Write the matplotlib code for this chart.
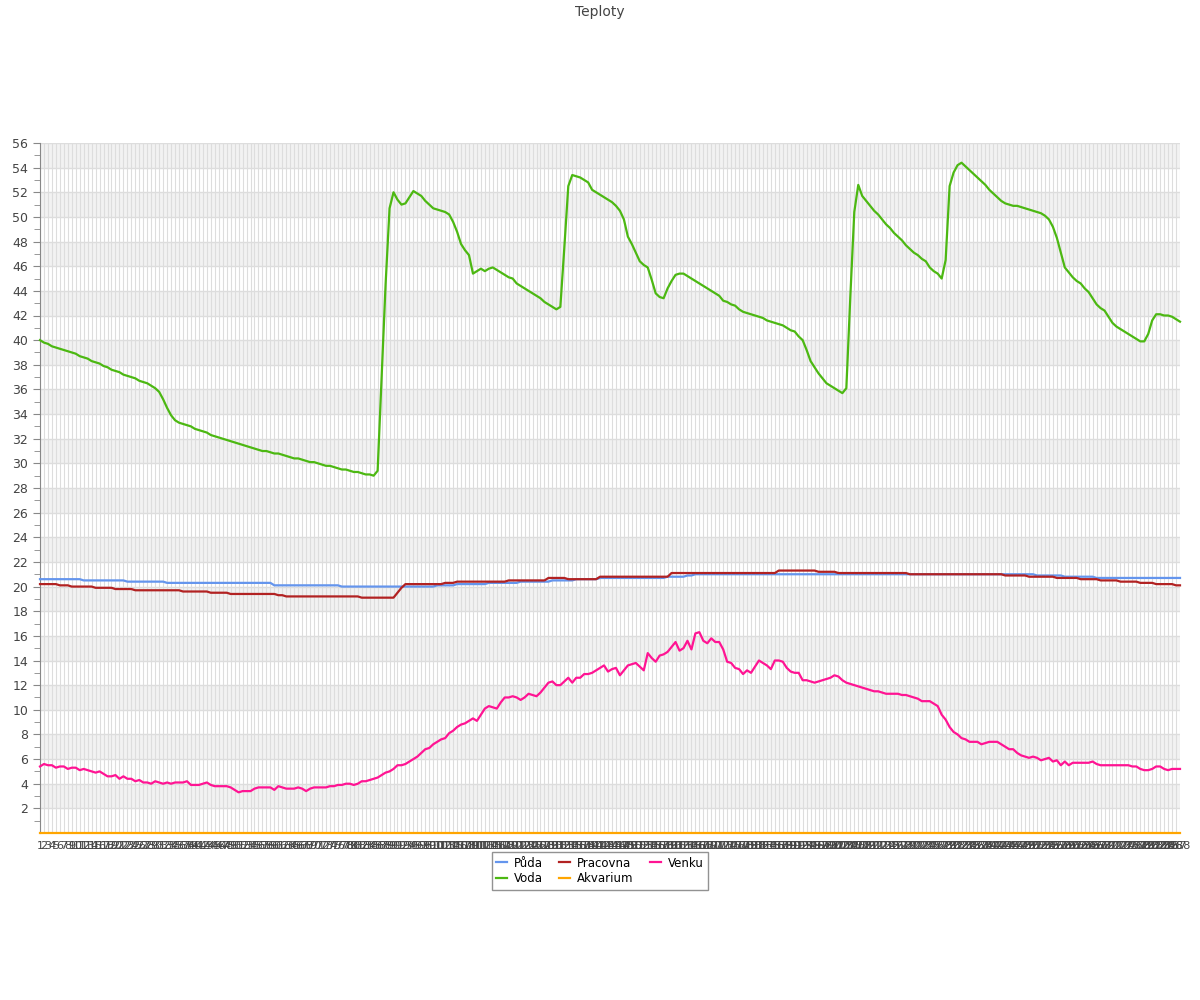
import matplotlib
matplotlib.use("Agg")
import matplotlib.pyplot as plt

# x categories: 288 readings (every 5 min)
labels = [str(n) for n in range(1, 289)]

puda = [
    20.6, 20.6, 20.6, 20.6, 20.6, 20.6, 20.6, 20.6, 20.6, 20.6, 20.6, 20.5,
    20.5, 20.5, 20.5, 20.5, 20.5, 20.5, 20.5, 20.5, 20.5, 20.5, 20.4, 20.4,
    20.4, 20.4, 20.4, 20.4, 20.4, 20.4, 20.4, 20.4, 20.3, 20.3, 20.3, 20.3,
    20.3, 20.3, 20.3, 20.3, 20.3, 20.3, 20.3, 20.3, 20.3, 20.3, 20.3, 20.3,
    20.3, 20.3, 20.3, 20.3, 20.3, 20.3, 20.3, 20.3, 20.3, 20.3, 20.3, 20.1,
    20.1, 20.1, 20.1, 20.1, 20.1, 20.1, 20.1, 20.1, 20.1, 20.1, 20.1, 20.1,
    20.1, 20.1, 20.1, 20.1, 20.0, 20.0, 20.0, 20.0, 20.0, 20.0, 20.0, 20.0,
    20.0, 20.0, 20.0, 20.0, 20.0, 20.0, 20.0, 20.0, 20.0, 20.0, 20.0, 20.0,
    20.0, 20.0, 20.0, 20.0, 20.1, 20.1, 20.1, 20.1, 20.1, 20.2, 20.2, 20.2,
    20.2, 20.2, 20.2, 20.2, 20.2, 20.3, 20.3, 20.3, 20.3, 20.3, 20.3, 20.3,
    20.3, 20.4, 20.4, 20.4, 20.4, 20.4, 20.4, 20.4, 20.4, 20.5, 20.5, 20.5,
    20.5, 20.5, 20.5, 20.6, 20.6, 20.6, 20.6, 20.6, 20.6, 20.7, 20.7, 20.7,
    20.7, 20.7, 20.7, 20.7, 20.7, 20.7, 20.7, 20.7, 20.7, 20.7, 20.7, 20.7,
    20.7, 20.7, 20.8, 20.8, 20.8, 20.8, 20.8, 20.9, 20.9, 21.0, 21.0, 21.0,
    21.0, 21.0, 21.0, 21.0, 21.0, 21.0, 21.0, 21.0, 21.0, 21.0, 21.0, 21.0,
    21.0, 21.0, 21.0, 21.0, 21.0, 21.0, 21.0, 21.0, 21.0, 21.0, 21.0, 21.0,
    21.0, 21.0, 21.0, 21.0, 21.0, 21.0, 21.0, 21.0, 21.0, 21.0, 21.0, 21.0,
    21.0, 21.0, 21.0, 21.0, 21.0, 21.0, 21.0, 21.0, 21.0, 21.0, 21.0, 21.0,
    21.0, 21.0, 21.0, 21.0, 21.0, 21.0, 21.0, 21.0, 21.0, 21.0, 21.0, 21.0,
    21.0, 21.0, 21.0, 21.0, 21.0, 21.0, 21.0, 21.0, 21.0, 21.0, 21.0, 21.0,
    21.0, 21.0, 21.0, 21.0, 21.0, 21.0, 21.0, 21.0, 21.0, 21.0, 21.0, 20.9,
    20.9, 20.9, 20.9, 20.9, 20.9, 20.9, 20.8, 20.8, 20.8, 20.8, 20.8, 20.8,
    20.8, 20.8, 20.7, 20.7, 20.7, 20.7, 20.7, 20.7, 20.7, 20.7, 20.7, 20.7,
    20.7, 20.7, 20.7, 20.7, 20.7, 20.7, 20.7, 20.7, 20.7, 20.7, 20.7, 20.7,
]

voda = [
    40.0, 39.8, 39.7, 39.5, 39.4, 39.3, 39.2, 39.1, 39.0, 38.9, 38.7, 38.6,
    38.5, 38.3, 38.2, 38.1, 37.9, 37.8, 37.6, 37.5, 37.4, 37.2, 37.1, 37.0,
    36.9, 36.7, 36.6, 36.5, 36.3, 36.1, 35.8, 35.2, 34.5, 33.9, 33.5, 33.3,
    33.2, 33.1, 33.0, 32.8, 32.7, 32.6, 32.5, 32.3, 32.2, 32.1, 32.0, 31.9,
    31.8, 31.7, 31.6, 31.5, 31.4, 31.3, 31.2, 31.1, 31.0, 31.0, 30.9, 30.8,
    30.8, 30.7, 30.6, 30.5, 30.4, 30.4, 30.3, 30.2, 30.1, 30.1, 30.0, 29.9,
    29.8, 29.8, 29.7, 29.6, 29.5, 29.5, 29.4, 29.3, 29.3, 29.2, 29.1, 29.1,
    29.0, 29.4, 37.0, 44.5, 50.7, 52.0, 51.4, 51.0, 51.1, 51.6, 52.1, 51.9,
    51.7, 51.3, 51.0, 50.7, 50.6, 50.5, 50.4, 50.2, 49.6, 48.8, 47.8, 47.3,
    46.9, 45.4, 45.6, 45.8, 45.6, 45.8, 45.9, 45.7, 45.5, 45.3, 45.1, 45.0,
    44.6, 44.4, 44.2, 44.0, 43.8, 43.6, 43.4, 43.1, 42.9, 42.7, 42.5, 42.7,
    47.5, 52.5, 53.4, 53.3, 53.2, 53.0, 52.8, 52.2, 52.0, 51.8, 51.6, 51.4,
    51.2, 50.9, 50.5, 49.8, 48.4, 47.8, 47.1, 46.4, 46.1, 45.9, 44.9, 43.8,
    43.5, 43.4, 44.2, 44.8, 45.3, 45.4, 45.4, 45.2, 45.0, 44.8, 44.6, 44.4,
    44.2, 44.0, 43.8, 43.6, 43.2, 43.1, 42.9, 42.8, 42.5, 42.3, 42.2, 42.1,
    42.0, 41.9, 41.8, 41.6, 41.5, 41.4, 41.3, 41.2, 41.0, 40.8, 40.7, 40.3,
    40.0, 39.2, 38.3, 37.8, 37.3, 36.9, 36.5, 36.3, 36.1, 35.9, 35.7, 36.1,
    43.5, 50.4, 52.6, 51.7, 51.3, 50.9, 50.5, 50.2, 49.8, 49.4, 49.1, 48.7,
    48.4, 48.1, 47.7, 47.4, 47.1, 46.9, 46.6, 46.4, 45.9, 45.6, 45.4, 45.0,
    46.5, 52.5, 53.6, 54.2, 54.4, 54.1, 53.8, 53.5, 53.2, 52.9, 52.6, 52.2,
    51.9, 51.6, 51.3, 51.1, 51.0, 50.9, 50.9, 50.8, 50.7, 50.6, 50.5, 50.4,
    50.3, 50.1, 49.8, 49.2, 48.3, 47.1, 45.9, 45.5, 45.1, 44.8, 44.6, 44.2,
    43.9, 43.4, 42.9, 42.6, 42.4, 41.9, 41.4, 41.1, 40.9, 40.7, 40.5, 40.3,
    40.1, 39.9, 39.9, 40.5, 41.6, 42.1, 42.1, 42.0, 42.0, 41.9, 41.7, 41.5,
]

pracovna = [
    20.2, 20.2, 20.2, 20.2, 20.2, 20.1, 20.1, 20.1, 20.0, 20.0, 20.0, 20.0,
    20.0, 20.0, 19.9, 19.9, 19.9, 19.9, 19.9, 19.8, 19.8, 19.8, 19.8, 19.8,
    19.7, 19.7, 19.7, 19.7, 19.7, 19.7, 19.7, 19.7, 19.7, 19.7, 19.7, 19.7,
    19.6, 19.6, 19.6, 19.6, 19.6, 19.6, 19.6, 19.5, 19.5, 19.5, 19.5, 19.5,
    19.4, 19.4, 19.4, 19.4, 19.4, 19.4, 19.4, 19.4, 19.4, 19.4, 19.4, 19.4,
    19.3, 19.3, 19.2, 19.2, 19.2, 19.2, 19.2, 19.2, 19.2, 19.2, 19.2, 19.2,
    19.2, 19.2, 19.2, 19.2, 19.2, 19.2, 19.2, 19.2, 19.2, 19.1, 19.1, 19.1,
    19.1, 19.1, 19.1, 19.1, 19.1, 19.1, 19.5, 19.9, 20.2, 20.2, 20.2, 20.2,
    20.2, 20.2, 20.2, 20.2, 20.2, 20.2, 20.3, 20.3, 20.3, 20.4, 20.4, 20.4,
    20.4, 20.4, 20.4, 20.4, 20.4, 20.4, 20.4, 20.4, 20.4, 20.4, 20.5, 20.5,
    20.5, 20.5, 20.5, 20.5, 20.5, 20.5, 20.5, 20.5, 20.7, 20.7, 20.7, 20.7,
    20.7, 20.6, 20.6, 20.6, 20.6, 20.6, 20.6, 20.6, 20.6, 20.8, 20.8, 20.8,
    20.8, 20.8, 20.8, 20.8, 20.8, 20.8, 20.8, 20.8, 20.8, 20.8, 20.8, 20.8,
    20.8, 20.8, 20.8, 21.1, 21.1, 21.1, 21.1, 21.1, 21.1, 21.1, 21.1, 21.1,
    21.1, 21.1, 21.1, 21.1, 21.1, 21.1, 21.1, 21.1, 21.1, 21.1, 21.1, 21.1,
    21.1, 21.1, 21.1, 21.1, 21.1, 21.1, 21.3, 21.3, 21.3, 21.3, 21.3, 21.3,
    21.3, 21.3, 21.3, 21.3, 21.2, 21.2, 21.2, 21.2, 21.2, 21.1, 21.1, 21.1,
    21.1, 21.1, 21.1, 21.1, 21.1, 21.1, 21.1, 21.1, 21.1, 21.1, 21.1, 21.1,
    21.1, 21.1, 21.1, 21.0, 21.0, 21.0, 21.0, 21.0, 21.0, 21.0, 21.0, 21.0,
    21.0, 21.0, 21.0, 21.0, 21.0, 21.0, 21.0, 21.0, 21.0, 21.0, 21.0, 21.0,
    21.0, 21.0, 21.0, 20.9, 20.9, 20.9, 20.9, 20.9, 20.9, 20.8, 20.8, 20.8,
    20.8, 20.8, 20.8, 20.8, 20.7, 20.7, 20.7, 20.7, 20.7, 20.7, 20.6, 20.6,
    20.6, 20.6, 20.6, 20.5, 20.5, 20.5, 20.5, 20.5, 20.4, 20.4, 20.4, 20.4,
    20.4, 20.3, 20.3, 20.3, 20.3, 20.2, 20.2, 20.2, 20.2, 20.2, 20.1, 20.1,
]

akvarium = [
    0.0, 0.0, 0.0, 0.0, 0.0, 0.0, 0.0, 0.0, 0.0, 0.0, 0.0, 0.0,
    0.0, 0.0, 0.0, 0.0, 0.0, 0.0, 0.0, 0.0, 0.0, 0.0, 0.0, 0.0,
    0.0, 0.0, 0.0, 0.0, 0.0, 0.0, 0.0, 0.0, 0.0, 0.0, 0.0, 0.0,
    0.0, 0.0, 0.0, 0.0, 0.0, 0.0, 0.0, 0.0, 0.0, 0.0, 0.0, 0.0,
    0.0, 0.0, 0.0, 0.0, 0.0, 0.0, 0.0, 0.0, 0.0, 0.0, 0.0, 0.0,
    0.0, 0.0, 0.0, 0.0, 0.0, 0.0, 0.0, 0.0, 0.0, 0.0, 0.0, 0.0,
    0.0, 0.0, 0.0, 0.0, 0.0, 0.0, 0.0, 0.0, 0.0, 0.0, 0.0, 0.0,
    0.0, 0.0, 0.0, 0.0, 0.0, 0.0, 0.0, 0.0, 0.0, 0.0, 0.0, 0.0,
    0.0, 0.0, 0.0, 0.0, 0.0, 0.0, 0.0, 0.0, 0.0, 0.0, 0.0, 0.0,
    0.0, 0.0, 0.0, 0.0, 0.0, 0.0, 0.0, 0.0, 0.0, 0.0, 0.0, 0.0,
    0.0, 0.0, 0.0, 0.0, 0.0, 0.0, 0.0, 0.0, 0.0, 0.0, 0.0, 0.0,
    0.0, 0.0, 0.0, 0.0, 0.0, 0.0, 0.0, 0.0, 0.0, 0.0, 0.0, 0.0,
    0.0, 0.0, 0.0, 0.0, 0.0, 0.0, 0.0, 0.0, 0.0, 0.0, 0.0, 0.0,
    0.0, 0.0, 0.0, 0.0, 0.0, 0.0, 0.0, 0.0, 0.0, 0.0, 0.0, 0.0,
    0.0, 0.0, 0.0, 0.0, 0.0, 0.0, 0.0, 0.0, 0.0, 0.0, 0.0, 0.0,
    0.0, 0.0, 0.0, 0.0, 0.0, 0.0, 0.0, 0.0, 0.0, 0.0, 0.0, 0.0,
    0.0, 0.0, 0.0, 0.0, 0.0, 0.0, 0.0, 0.0, 0.0, 0.0, 0.0, 0.0,
    0.0, 0.0, 0.0, 0.0, 0.0, 0.0, 0.0, 0.0, 0.0, 0.0, 0.0, 0.0,
    0.0, 0.0, 0.0, 0.0, 0.0, 0.0, 0.0, 0.0, 0.0, 0.0, 0.0, 0.0,
    0.0, 0.0, 0.0, 0.0, 0.0, 0.0, 0.0, 0.0, 0.0, 0.0, 0.0, 0.0,
    0.0, 0.0, 0.0, 0.0, 0.0, 0.0, 0.0, 0.0, 0.0, 0.0, 0.0, 0.0,
    0.0, 0.0, 0.0, 0.0, 0.0, 0.0, 0.0, 0.0, 0.0, 0.0, 0.0, 0.0,
    0.0, 0.0, 0.0, 0.0, 0.0, 0.0, 0.0, 0.0, 0.0, 0.0, 0.0, 0.0,
    0.0, 0.0, 0.0, 0.0, 0.0, 0.0, 0.0, 0.0, 0.0, 0.0, 0.0, 0.0,
]

venku = [
    5.4, 5.6, 5.5, 5.5, 5.3, 5.4, 5.4, 5.2, 5.3, 5.3, 5.1, 5.2,
    5.1, 5.0, 4.9, 5.0, 4.8, 4.6, 4.6, 4.7, 4.4, 4.6, 4.4, 4.4,
    4.2, 4.3, 4.1, 4.1, 4.0, 4.2, 4.1, 4.0, 4.1, 4.0, 4.1, 4.1,
    4.1, 4.2, 3.9, 3.9, 3.9, 4.0, 4.1, 3.9, 3.8, 3.8, 3.8, 3.8,
    3.7, 3.5, 3.3, 3.4, 3.4, 3.4, 3.6, 3.7, 3.7, 3.7, 3.7, 3.5,
    3.8, 3.7, 3.6, 3.6, 3.6, 3.7, 3.6, 3.4, 3.6, 3.7, 3.7, 3.7,
    3.7, 3.8, 3.8, 3.9, 3.9, 4.0, 4.0, 3.9, 4.0, 4.2, 4.2, 4.3,
    4.4, 4.5, 4.7, 4.9, 5.0, 5.2, 5.5, 5.5, 5.6, 5.8, 6.0, 6.2,
    6.5, 6.8, 6.9, 7.2, 7.4, 7.6, 7.7, 8.1, 8.3, 8.6, 8.8, 8.9,
    9.1, 9.3, 9.1, 9.6, 10.1, 10.3, 10.2, 10.1, 10.6, 11.0, 11.0, 11.1,
    11.0, 10.8, 11.0, 11.3, 11.2, 11.1, 11.4, 11.8, 12.2, 12.3, 12.0, 12.0,
    12.3, 12.6, 12.2, 12.6, 12.6, 12.9, 12.9, 13.0, 13.2, 13.4, 13.6, 13.1,
    13.3, 13.4, 12.8, 13.2, 13.6, 13.7, 13.8, 13.5, 13.2, 14.6, 14.2, 13.9,
    14.4, 14.5, 14.7, 15.1, 15.5, 14.8, 15.0, 15.6, 14.9, 16.2, 16.3, 15.6,
    15.4, 15.8, 15.5, 15.5, 14.9, 13.9, 13.8, 13.4, 13.3, 12.9, 13.2, 13.0,
    13.5, 14.0, 13.8, 13.6, 13.3, 14.0, 14.0, 13.9, 13.4, 13.1, 13.0, 13.0,
    12.4, 12.4, 12.3, 12.2, 12.3, 12.4, 12.5, 12.6, 12.8, 12.7, 12.4, 12.2,
    12.1, 12.0, 11.9, 11.8, 11.7, 11.6, 11.5, 11.5, 11.4, 11.3, 11.3, 11.3,
    11.3, 11.2, 11.2, 11.1, 11.0, 10.9, 10.7, 10.7, 10.7, 10.5, 10.3, 9.6,
    9.2, 8.6, 8.2, 8.0, 7.7, 7.6, 7.4, 7.4, 7.4, 7.2, 7.3, 7.4,
    7.4, 7.4, 7.2, 7.0, 6.8, 6.8, 6.5, 6.3, 6.2, 6.1, 6.2, 6.1,
    5.9, 6.0, 6.1, 5.8, 5.9, 5.5, 5.8, 5.5, 5.7, 5.7, 5.7, 5.7,
    5.7, 5.8, 5.6, 5.5, 5.5, 5.5, 5.5, 5.5, 5.5, 5.5, 5.5, 5.4,
    5.4, 5.2, 5.1, 5.1, 5.2, 5.4, 5.4, 5.2, 5.1, 5.2, 5.2, 5.2,
]

series = [
    ("Půda", puda, "#6495ed"),
    ("Voda", voda, "#4cb812"),
    ("Pracovna", pracovna, "#b22222"),
    ("Akvarium", akvarium, "#ffa500"),
    ("Venku", venku, "#ff1493"),
]

fig = plt.figure(figsize=(12, 10), dpi=100)
ax = fig.add_axes([40 / 1200, 1 - 833 / 1000, 1140 / 1200, 690 / 1000])

x = list(range(len(labels)))

# alternating horizontal bands
for lo in range(2, 56, 4):
    ax.axhspan(lo, lo + 2, color="#f2f2f2", zorder=0, lw=0)

for name, vals, col in series:
    ax.plot(x, vals, color=col, lw=1.6, label=name, zorder=3, clip_on=False)

ax.set_xlim(0, len(labels) - 1)
ax.set_ylim(0, 56)
ax.set_yticks(range(2, 57, 2))
ax.set_yticks(range(1, 56, 2), minor=True)
ax.set_xticks(x)
ax.set_xticklabels(labels, fontsize=8, color="#444")
ax.tick_params(axis="x", length=0, pad=6)
ax.tick_params(axis="y", which="major", length=5, color="#888", labelsize=9, labelcolor="#444")
ax.tick_params(axis="y", which="minor", length=4, color="#888")
ax.grid(axis="y", which="major", color="#dddddd", lw=1, zorder=1)
ax.grid(axis="x", which="major", color="#dddddd", lw=0.8, zorder=1)
ax.set_axisbelow(True)

for side in ("top", "right", "bottom"):
    ax.spines[side].set_visible(False)
ax.spines["left"].set_color("#888")

fig.suptitle("Teploty", y=0.995, fontsize=10, color="#444")

leg = fig.legend(loc="upper center", bbox_to_anchor=(0.5, 0.1535), ncol=3,
                 fontsize=8.5, frameon=True, fancybox=False, handlelength=0.9,
                 handletextpad=0.6, columnspacing=1.4, borderpad=0.35,
                 labelspacing=0.25)
leg.get_frame().set_edgecolor("#777")
leg.get_frame().set_linewidth(1)

plt.savefig("out.png", dpi=100)
plt.close(fig)
